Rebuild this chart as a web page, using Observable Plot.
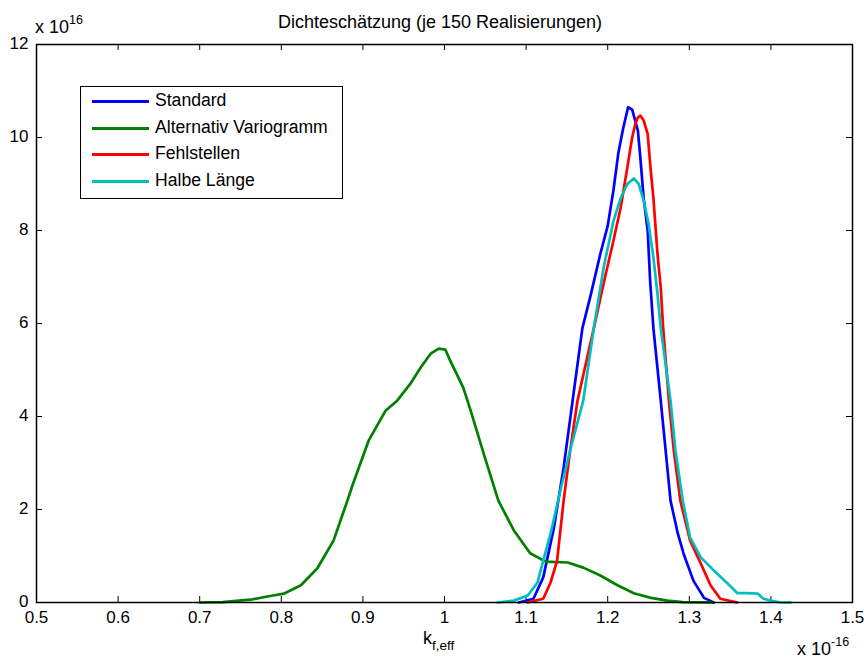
<!DOCTYPE html>
<html>
<head>
<meta charset="utf-8">
<script src="https://cdn.jsdelivr.net/npm/d3@7"></script>
<script src="https://cdn.jsdelivr.net/npm/@observablehq/plot@0.6"></script>
<style>
  body { margin: 0; background: #fff; }
  #wrap { position: relative; width: 864px; height: 658px; font-family: "Liberation Sans", Arial, sans-serif; color: #000; }
  .lab { position: absolute; white-space: nowrap; line-height: 1; }
  #legend { position: absolute; left: 80px; top: 86px; width: 261px; height: 111px; border: 1px solid #000; background: #fff; }
  .row { position: absolute; left: 0; height: 20px; }
  .row .sw { position: absolute; left: 11px; top: 9px; width: 57px; height: 3px; }
  .row .tx { position: absolute; left: 74px; top: 1px; font-size: 17.6px; line-height: 1; white-space: nowrap; }
</style>
</head>
<body>
<div id="wrap"></div>
<script>
// ---- data (x in units of 1e-16, density in units of 1e16) ----
const seriesNames = ["Standard", "Alternativ Variogramm", "Fehlstellen", "Halbe Länge"];
const seriesColors = ["#0000ff", "#008000", "#ff0000", "#00bfbf"];

const standardX = [1.091,1.109,1.121,1.134,1.146,1.157,1.169,1.179,1.191,1.200,1.207,1.213,1.219,1.225,1.230,1.237,1.240,1.244,1.249,1.252,1.256,1.265,1.271,1.277,1.286,1.293,1.305,1.318,1.330];
const standardY = [0,0.08,0.54,1.6,2.9,4.34,5.9,6.6,7.5,8.1,8.86,9.66,10.2,10.65,10.6,10.15,9.57,8.7,8.0,6.92,5.9,4.34,3.27,2.19,1.48,1.05,0.47,0.10,0];

const variogrammX = [0.700,0.728,0.762,0.783,0.803,0.824,0.844,0.864,0.881,0.888,0.907,0.928,0.942,0.958,0.971,0.983,0.993,1.001,1.007,1.023,1.032,1.048,1.066,1.085,1.105,1.124,1.151,1.170,1.191,1.212,1.232,1.253,1.273,1.292,1.330];
const variogrammY = [0,0.01,0.06,0.13,0.19,0.37,0.73,1.33,2.19,2.56,3.48,4.13,4.34,4.70,5.06,5.35,5.46,5.44,5.2,4.62,4.13,3.2,2.19,1.55,1.06,0.88,0.86,0.75,0.58,0.37,0.20,0.10,0.04,0.01,0];

const fehlstellenX = [1.102,1.121,1.130,1.138,1.146,1.154,1.163,1.183,1.195,1.207,1.216,1.224,1.230,1.234,1.237,1.240,1.244,1.249,1.252,1.256,1.261,1.265,1.268,1.275,1.281,1.289,1.301,1.314,1.326,1.338,1.359];
const fehlstellenY = [0,0.08,0.43,0.9,2.19,3.27,4.34,5.9,6.86,7.78,8.5,9.35,10.0,10.3,10.43,10.47,10.37,10.08,9.44,8.7,7.5,6.77,5.9,4.34,3.27,2.19,1.33,0.84,0.37,0.08,0];

const halbeX = [1.065,1.085,1.102,1.114,1.121,1.130,1.142,1.154,1.170,1.183,1.195,1.207,1.216,1.224,1.232,1.238,1.244,1.250,1.256,1.261,1.265,1.277,1.283,1.292,1.301,1.314,1.330,1.347,1.359,1.371,1.384,1.391,1.400,1.412,1.424];
const halbeY = [0,0.04,0.15,0.43,0.9,1.48,2.41,3.27,4.34,5.9,7.2,8.2,8.7,9.0,9.12,9.0,8.65,8.15,7.42,6.64,5.9,4.34,3.27,2.19,1.4,0.97,0.69,0.41,0.2,0.2,0.19,0.08,0.04,0,0];

const xTicks = [0.5,0.6,0.7,0.8,0.9,1,1.1,1.2,1.3,1.4,1.5];
const xTickLabels = ["0.5","0.6","0.7","0.8","0.9","1","1.1","1.2","1.3","1.4","1.5"];
const yTicks = [0,2,4,6,8,10,12];
const yTickLabels = ["0","2","4","6","8","10","12"];

// ---- build table ----
const allX = [standardX, variogrammX, fehlstellenX, halbeX];
const allY = [standardY, variogrammY, fehlstellenY, halbeY];
const rows = [];
allX.forEach((xs, s) => xs.forEach((x, i) => rows.push({series: seriesNames[s], x, y: allY[s][i]})));

const W = 864, H = 658, mL = 36, mR = 12, mT = 44, mB = 56;
const plotW = W - mL - mR, plotH = H - mT - mB;
const tickLen = 6;

const chart = Plot.plot({
  width: W, height: H,
  marginLeft: mL, marginRight: mR, marginTop: mT, marginBottom: mB,
  style: {fontFamily: '"Liberation Sans", Arial, sans-serif', fontSize: "17px", background: "#fff", color: "#000"},
  x: {domain: [0.5, 1.5]},
  y: {domain: [0, 12]},
  color: {domain: seriesNames, range: seriesColors},
  marks: [
    Plot.axisX({ticks: xTicks, tickSize: 0, tickPadding: 8, tickFormat: d => xTickLabels[xTicks.indexOf(d)], label: null}),
    Plot.axisY({ticks: yTicks, tickSize: 0, tickPadding: 8, dy: -1, tickFormat: d => yTickLabels[yTicks.indexOf(d)], label: null}),
    // inward MATLAB-style ticks on all four sides
    Plot.tickX(xTicks, {x: d => d, insetTop: plotH - tickLen, stroke: "#000", strokeWidth: 1}),
    Plot.tickX(xTicks, {x: d => d, insetBottom: plotH - tickLen, stroke: "#000", strokeWidth: 1}),
    Plot.tickY(yTicks, {y: d => d, insetRight: plotW - tickLen, stroke: "#000", strokeWidth: 1}),
    Plot.tickY(yTicks, {y: d => d, insetLeft: plotW - tickLen, stroke: "#000", strokeWidth: 1}),
    Plot.line(rows, {x: "x", y: "y", z: "series", stroke: "series", strokeWidth: 2.7, strokeLinejoin: "round"}),
    Plot.frame({stroke: "#000", strokeWidth: 1.5})
  ]
});

const wrap = document.getElementById("wrap");
wrap.appendChild(chart);

function addLabel(html, left, top, size, extraStyle) {
  const d = document.createElement("div");
  d.className = "lab";
  d.innerHTML = html;
  d.style.left = left + "px";
  d.style.top = top + "px";
  d.style.fontSize = size + "px";
  if (extraStyle) d.style.cssText += extraStyle;
  wrap.appendChild(d);
  return d;
}

// title
addLabel("Dichteschätzung (je 150 Realisierungen)", 0, 13, 18, "width:864px;left:8px;text-align:center;");
// y exponent
addLabel('x 10<span style="font-size:12.5px;position:relative;top:-9px;">16</span>', 35, 18, 18);
// x label
addLabel('k<span style="font-size:13.5px;position:relative;top:6px;">f,eff</span>', 423, 629, 18);
// x exponent
addLabel('x 10<span style="font-size:12.5px;position:relative;top:-9px;">-16</span>', 797, 640, 18);

// legend
const leg = document.createElement("div");
leg.id = "legend";
const rowTops = [4, 31, 57, 84];
seriesNames.forEach((name, i) => {
  const r = document.createElement("div");
  r.className = "row";
  r.style.top = rowTops[i] + "px";
  r.innerHTML = `<div class="sw" style="background:${seriesColors[i]}"></div><div class="tx">${name}</div>`;
  leg.appendChild(r);
});
wrap.appendChild(leg);
</script>
</body>
</html>
